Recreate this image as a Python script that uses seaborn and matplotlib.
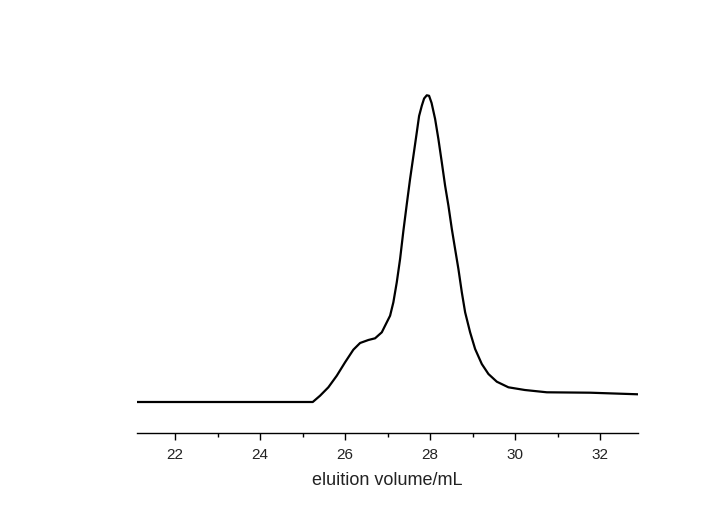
import matplotlib
matplotlib.use("Agg")
import matplotlib.pyplot as plt
import seaborn as sns
import pandas as pd
from matplotlib.ticker import MultipleLocator

volume = [21.106, 25.240, 25.412, 25.607, 25.805, 26.000, 26.195, 26.353, 26.548, 26.706,
          26.864, 26.941, 27.059, 27.136, 27.216, 27.294, 27.372, 27.452, 27.529, 27.607,
          27.687, 27.741, 27.805, 27.859, 27.922, 27.976, 28.035, 28.118, 28.195, 28.275,
          28.353, 28.431, 28.511, 28.588, 28.666, 28.746, 28.824, 28.941, 29.059, 29.216,
          29.372, 29.569, 29.842, 30.228, 30.746, 31.765, 32.894]
signal = [0.0, 0.0, 6.3, 14.7, 26.3, 39.7, 52.3, 59.0, 62.0, 63.7,
          69.7, 76.3, 86.3, 99.7, 119.7, 143.0, 171.3, 198.0, 223.0, 246.0,
          269.7, 286.0, 296.3, 303.5, 306.7, 306.2, 299.0, 283.0, 263.0, 239.7,
          216.3, 196.3, 173.0, 153.0, 133.0, 109.7, 89.7, 69.7, 53.0, 38.0,
          28.0, 20.3, 14.7, 12.0, 9.7, 9.3, 7.7]
major_ticks = [22, 24, 26, 28, 30, 32]
xlabel = "eluition volume/mL"

df = pd.DataFrame({"volume": volume, "signal": signal})

sns.set_style("white")
plt.rcParams["font.family"] = ["Liberation Sans", "DejaVu Sans"]

fig = plt.figure(figsize=(7.27, 5.10), dpi=100)
ax = fig.add_axes([137 / 727, 1 - 434 / 510, (638 - 137) / 727, (434 - 60) / 510])

sns.lineplot(data=df, x="volume", y="signal", ax=ax, color="black", linewidth=1.6,
             sort=False, estimator=None)
for ln in ax.get_lines():
    ln.set_solid_joinstyle("round")
    ln.set_solid_capstyle("round")

ax.set_xlim(21.106, 32.89)
ax.set_ylim(-31, 343)
for s in ["left", "top", "right"]:
    ax.spines[s].set_visible(False)
ax.spines["bottom"].set_linewidth(1.0)
ax.spines["bottom"].set_color("black")
ax.set_yticks([])
ax.set_ylabel("")
ax.set_xticks(major_ticks)
ax.xaxis.set_minor_locator(MultipleLocator(1))
ax.tick_params(axis="x", which="major", direction="out", length=5, width=1.0,
               color="black", labelsize=11, pad=5, bottom=True, labelcolor="#222222")
ax.tick_params(axis="x", which="minor", direction="out", length=3, width=1.0,
               color="black", bottom=True)
ax.set_xlabel(xlabel, fontsize=13, labelpad=7, color="#222222")
ax.patch.set_alpha(0)

fig.savefig("out.png", dpi=100, facecolor="white")
